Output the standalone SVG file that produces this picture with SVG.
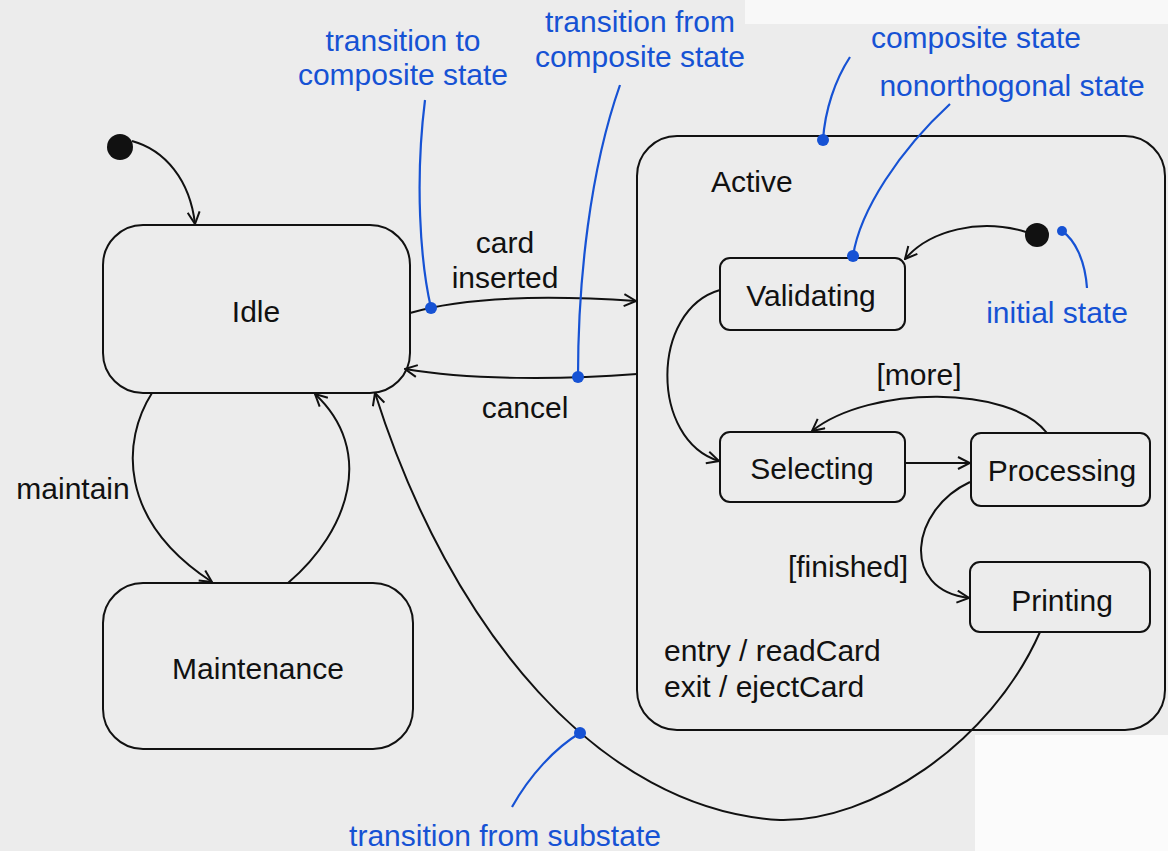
<svg xmlns="http://www.w3.org/2000/svg" width="1168" height="851" viewBox="0 0 1168 851">
<style>
.st{fill:none;stroke:#111;stroke-width:2}
.ln{fill:none;stroke:#111;stroke-width:2}
.t{font-family:"Liberation Sans",Arial,sans-serif;font-size:30px;fill:#111;text-anchor:middle}
.tl{font-family:"Liberation Sans",Arial,sans-serif;font-size:30px;fill:#111}
.b{font-family:"Liberation Sans",Arial,sans-serif;font-size:30px;fill:#1652d4;text-anchor:middle}
.bl{fill:none;stroke:#1652d4;stroke-width:2.2}
.bd{fill:#1652d4}
</style>
<defs>
<marker id="arr" viewBox="0 0 14 14" refX="13" refY="7" markerWidth="14" markerHeight="14" markerUnits="userSpaceOnUse" orient="auto">
<path d="M1,1 L13,7 L1,13" fill="none" stroke="#111" stroke-width="2"/>
</marker>
</defs>
<rect x="0" y="0" width="1168" height="851" fill="#ececec"/>
<rect x="745" y="0" width="423" height="24" fill="#f8f8f8"/>
<rect x="975" y="735" width="193" height="116" fill="#fbfbfb"/>

<g id="initial-top">
<circle cx="120" cy="147" r="13" fill="#111"/>
</g>
<g id="Idle">
<rect x="103" y="225" width="307" height="168" rx="40" class="st" fill="none"/>
<text x="256" y="322" class="t">Idle</text>
</g>
<g id="Maintenance">
<rect x="103" y="583" width="310" height="166" rx="40" class="st"/>
<text x="258" y="679" class="t">Maintenance</text>
</g>
<g id="Active">
<rect x="637" y="136" width="528" height="594" rx="40" class="st"/>
<text x="711" y="192" class="tl">Active</text>
<text x="664" y="661" class="tl">entry / readCard</text>
<text x="664" y="697" class="tl">exit / ejectCard</text>
</g>
<g id="initial-inner">
<circle cx="1037" cy="235" r="12" fill="#111"/>
</g>
<g id="Validating">
<rect x="720" y="258" width="185" height="72" rx="10" class="st"/>
<text x="811" y="306" class="t">Validating</text>
</g>
<g id="Selecting">
<rect x="720" y="432" width="185" height="70" rx="10" class="st"/>
<text x="812" y="479" class="t">Selecting</text>
</g>
<g id="Processing">
<rect x="971" y="433" width="179" height="73" rx="10" class="st"/>
<text x="1062" y="481" class="t">Processing</text>
</g>
<g id="Printing">
<rect x="970" y="562" width="180" height="70" rx="10" class="st"/>
<text x="1062" y="611" class="t">Printing</text>
</g>

<g id="connectors">
<path class="ln" d="M132,141 C165,150 190,180 195,224" marker-end="url(#arr)"/>
<path class="ln" d="M152,393 C122,440 117,520 212,582" marker-end="url(#arr)"/>
<path class="ln" d="M288,583 C350,530 375,450 315,394" marker-end="url(#arr)"/>
<path class="ln" d="M410,313 C470,295 560,296 636,301" marker-end="url(#arr)"/>
<path class="ln" d="M637,374 C560,380 470,380 405,369" marker-end="url(#arr)"/>
<path class="ln" d="M1026,232 C980,218 930,230 905,259" marker-end="url(#arr)"/>
<path class="ln" d="M720,290 C650,310 650,440 719,461" marker-end="url(#arr)"/>
<path class="ln" d="M905,463 L970,463" marker-end="url(#arr)"/>
<path class="ln" d="M1047,433 C1010,385 870,385 812,431" marker-end="url(#arr)"/>
<path class="ln" d="M970,482 C910,510 900,590 969,598" marker-end="url(#arr)"/>
<path class="ln" d="M1040,632 C990,745 870,822 780,820 C600,810 450,630 375,393" marker-end="url(#arr)"/>
</g>

<g id="labels">
<text x="505" y="253" class="t">card</text>
<text x="505" y="288" class="t">inserted</text>
<text x="525" y="418" class="t">cancel</text>
<text x="73" y="499" class="t">maintain</text>
<text x="919" y="385" class="t">[more]</text>
<text x="848" y="577" class="t">[finished]</text>
</g>

<g id="annotations">
<text x="403" y="51" class="b">transition to</text>
<text x="403" y="85" class="b">composite state</text>
<path class="bl" d="M425,100 C415,180 420,260 431,308"/>
<circle cx="431" cy="308" r="6" class="bd"/>
<text x="640" y="32" class="b">transition from</text>
<text x="640" y="67" class="b">composite state</text>
<path class="bl" d="M620,85 C590,170 578,280 578,377"/>
<circle cx="578" cy="377" r="6" class="bd"/>
<text x="976" y="48" class="b">composite state</text>
<path class="bl" d="M850,57 C835,80 825,110 823,140"/>
<circle cx="823" cy="140" r="6" class="bd"/>
<text x="1012" y="96" class="b">nonorthogonal state</text>
<path class="bl" d="M950,104 C900,150 860,210 853,256"/>
<circle cx="853" cy="256" r="6" class="bd"/>
<text x="1057" y="323" class="b">initial state</text>
<path class="bl" d="M1087,288 C1085,260 1075,240 1062,231"/>
<circle cx="1062" cy="231" r="5" class="bd"/>
<text x="505" y="846" class="b">transition from substate</text>
<path class="bl" d="M512,807 C530,775 555,748 580,733"/>
<circle cx="580" cy="733" r="6" class="bd"/>
</g>
</svg>
